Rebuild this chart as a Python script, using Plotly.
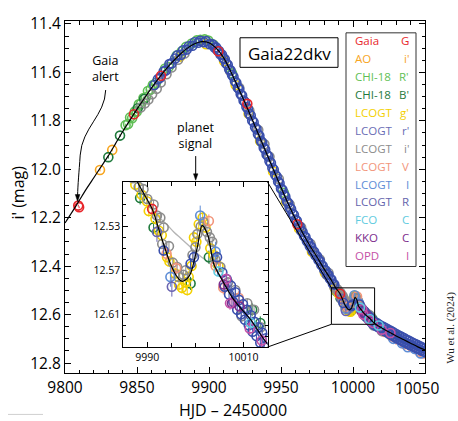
import plotly.graph_objects as go

# ---------------- data ----------------
model_t = [9800, 9805, 9810, 9815, 9820, 9825, 9830, 9835, 9840, 9845, 9850, 9855, 9860, 9865,
           9870, 9875, 9880, 9885, 9890, 9895, 9900, 9905, 9910, 9915, 9920, 9925, 9930, 9935,
           9940, 9945, 9950, 9955, 9960, 9965, 9970, 9975, 9980, 9985, 9988, 9991, 9992.7,
           9994.8, 9996.2, 9997.2, 9998.2, 9999.0, 10000.4, 10001.4, 10002.6, 10003.8, 10005.2,
           10008, 10011.5, 10015, 10020, 10025, 10030, 10035, 10040, 10045, 10050]
model_m = [12.222, 12.176, 12.128, 12.080, 12.035, 11.990, 11.945, 11.895, 11.845, 11.798, 11.752,
           11.708, 11.665, 11.625, 11.588, 11.555, 11.525, 11.500, 11.482, 11.473, 11.478, 11.500,
           11.538, 11.595, 11.660, 11.725, 11.795, 11.865, 11.935, 12.005, 12.075, 12.142, 12.205,
           12.262, 12.315, 12.362, 12.412, 12.458, 12.490, 12.514, 12.537, 12.564, 12.576, 12.580,
           12.578, 12.573, 12.549, 12.529, 12.538, 12.564, 12.576, 12.597, 12.615, 12.637, 12.655,
           12.672, 12.688, 12.703, 12.718, 12.733, 12.746]

nopl_t = [9990.0, 9991.0, 9992.5, 9994.0, 9995.5, 9997.0, 9998.5, 9999.5, 10001.0, 10002.5, 10004.0, 10005.5]
nopl_m = [12.507, 12.514, 12.522, 12.528, 12.535, 12.541, 12.547, 12.551, 12.557, 12.562, 12.568, 12.578]

gaia_t = [9809.2, 9809.8, 9847.9, 9866.7, 9906.5, 9926.6, 9961.3, 9991.0]
gaia_m = [12.150, 12.157, 11.773, 11.614, 11.513, 11.730, 12.227, 12.514]

ao_t = [9824.3, 9832.8]
ao_m = [12.003, 11.920]

chiR_t = [9842.1, 9843.8, 9845.2, 9846.6, 9848.5, 9849.8, 9851.3, 9852.8, 9854.5, 9856.2, 9857.6,
          9859.5, 9861.0, 9863.2, 9869.5, 9872.0, 9877.5, 9881.0, 9884.0, 9888.0, 9891.5, 9894.0,
          9897.0, 9899.5, 9903.0, 9916.0, 9936.0, 9952.0]
chiR_m = [11.818, 11.813, 11.786, 11.789, 11.762, 11.763, 11.732, 11.730, 11.706, 11.703, 11.677,
          11.671, 11.652, 11.643, 11.584, 11.578, 11.531, 11.514, 11.495, 11.481, 11.468, 11.466,
          11.464, 11.469, 11.485, 11.604, 11.885, 12.097]

chiB_t = [9830.1, 9838.2, 9850.5, 9855.0, 9988.5, 9991.3, 9999.0, 10002.8, 10011.8, 10013.5, 10030.0]
chiB_m = [11.950, 11.861, 11.748, 11.710, 12.504, 12.531, 12.582, 12.558, 12.606, 12.618, 12.690]

gp_t = [9880.0, 9898.0, 9910.5, 9918.5, 9927.5, 9935.5, 9944.5, 9953.5, 9962.5, 9971.5, 9980.5,
        9987.5, 9988.8, 9989.9, 9990.3, 9991.7, 9992.4, 9993.0, 9994.1, 9994.6, 9995.8, 9996.6,
        9997.2, 9997.9, 9998.3, 9998.6, 9999.2, 9999.7, 10000.2, 10000.7, 10001.5, 10002.1,
        10003.1, 10003.8, 10004.8]
gp_m = [11.535, 11.484, 11.554, 11.652, 11.771, 11.883, 12.009, 12.133, 12.245, 12.340, 12.427,
        12.492, 12.501, 12.507, 12.516, 12.523, 12.534, 12.538, 12.558, 12.562, 12.573, 12.583,
        12.586, 12.581, 12.588, 12.576, 12.566, 12.540, 12.544, 12.528, 12.522, 12.531,
        12.550, 12.556, 12.566]

rp_t = [9862, 9864.5, 9866, 9868.5, 9870, 9872.5, 9874, 9876.5, 9878, 9880.5, 9882, 9884.5, 9886,
        9888.5, 9890, 9892.5, 9894, 9896.5, 9898, 9900.5, 9902,
        9903, 9904, 9905, 9906, 9907, 9908, 9909, 9910, 9911, 9912, 9913, 9914, 9915, 9916, 9917,
        9918, 9919, 9920, 9921, 9922, 9923, 9924, 9925, 9926, 9927, 9928, 9929, 9930, 9931, 9932,
        9933, 9934, 9935, 9936, 9937, 9938, 9939, 9940, 9941, 9942, 9943, 9944, 9945, 9946, 9947,
        9948, 9949, 9950, 9951, 9952, 9953, 9954, 9955, 9956, 9957, 9958, 9959, 9960, 9961, 9962,
        9963, 9964, 9965, 9966, 9967, 9968, 9969, 9970, 9971, 9972, 9973, 9974, 9975, 9976, 9977,
        9978, 9979, 9980, 9981, 9982, 9983, 9984, 9985, 9986, 9987,
        9993.4, 9999.0, 9999.7, 10004.5,
        10005.6, 10006.1, 10006.5, 10007.0, 10007.4, 10007.9, 10008.3, 10008.7, 10009.1, 10009.5,
        10009.9, 10010.3, 10010.7, 10011.1, 10011.5, 10011.9, 10012.3, 10012.7, 10013.1, 10013.5,
        10013.9, 10014.3, 10014.7,
        10015.5, 10016.3, 10017.0, 10017.8, 10018.6, 10019.4, 10020.2, 10021.0, 10021.8, 10022.6,
        10023.4, 10024.2, 10025.0, 10025.8, 10026.6, 10027.4, 10028.2, 10029.0, 10029.8, 10030.6,
        10031.4, 10032.2, 10033.0, 10033.8, 10034.6, 10035.4, 10036.2, 10037.0, 10037.8, 10038.6,
        10039.4, 10040.2, 10041.0, 10041.8, 10042.6, 10043.4, 10044.2, 10045.0, 10045.8, 10046.6,
        10047.4, 10048.2, 10049.0, 10049.8, 10050.6]
rp_m = [11.652, 11.628, 11.622, 11.596, 11.592, 11.566, 11.563, 11.543, 11.530, 11.528, 11.509,
        11.506, 11.492, 11.490, 11.476, 11.478, 11.470, 11.476, 11.471, 11.484, 11.483,
        11.488, 11.498, 11.497, 11.510, 11.512, 11.526, 11.527, 11.542, 11.546, 11.563, 11.569,
        11.587, 11.592, 11.611, 11.618, 11.637, 11.643, 11.664, 11.670, 11.690, 11.696, 11.716,
        11.722, 11.743, 11.750, 11.771, 11.778, 11.799, 11.806, 11.827, 11.834, 11.855, 11.862,
        11.883, 11.890, 11.911, 11.918, 11.939, 11.946, 11.967, 11.974, 11.995, 12.002, 12.023,
        12.030, 12.051, 12.058, 12.079, 12.085, 12.105, 12.112, 12.132, 12.139, 12.158, 12.164,
        12.183, 12.189, 12.208, 12.213, 12.231, 12.236, 12.254, 12.259, 12.276, 12.280, 12.297,
        12.301, 12.318, 12.321, 12.337, 12.340, 12.356, 12.359, 12.375, 12.379, 12.395, 12.399,
        12.415, 12.418, 12.433, 12.436, 12.452, 12.455, 12.472, 12.476,
        12.552, 12.564, 12.558, 12.558,
        12.572, 12.585, 12.578, 12.592, 12.584, 12.599, 12.590, 12.606, 12.597, 12.610,
        12.601, 12.615, 12.606, 12.620, 12.611, 12.626, 12.617, 12.630, 12.622, 12.636,
        12.627, 12.640, 12.632,
        12.645, 12.634, 12.650, 12.640, 12.655, 12.646, 12.663, 12.650, 12.668, 12.655,
        12.672, 12.661, 12.679, 12.666, 12.684, 12.671, 12.689, 12.677, 12.696, 12.682,
        12.700, 12.687, 12.705, 12.692, 12.711, 12.697, 12.715, 12.703, 12.720, 12.707,
        12.725, 12.712, 12.729, 12.717, 12.734, 12.721, 12.739, 12.726, 12.743, 12.731,
        12.748, 12.736, 12.752, 12.741, 12.756]

ip_t = [9852.5, 9855.5, 9857.9, 9860.5, 9863.7, 9866.5, 9870.5, 9874.0, 9878.5, 9883.0, 9914.6,
        9921.0, 9928.0, 9934.2, 9938.5, 9942.0, 9948.5, 9956.0, 9964.0, 9970.5, 9977.0, 9981.7,
        9983.0, 9987.0, 9988.2, 9989.2, 9990.0, 9991.3, 9992.0, 9992.7, 9993.1, 9993.4, 9994.5,
        9995.3, 9996.2, 9996.5, 9997.5, 9998.0, 9999.4, 10000.0, 10000.4, 10001.1, 10001.7,
        10002.4, 10003.0, 10003.5, 10004.1, 10005.2, 10006.8, 10008.3, 10009.6, 10010.8,
        10012.2, 10013.6, 10014.4, 10020.0, 10036.0]
ip_m = [11.745, 11.728, 11.712, 11.690, 11.668, 11.642, 11.608, 11.580, 11.548, 11.522, 11.594,
        11.664, 11.757, 11.838, 11.897, 11.948, 12.040, 12.145, 12.240, 12.308, 12.372, 12.435,
        12.428, 12.486, 12.494, 12.496, 12.505, 12.510, 12.520, 12.522, 12.546, 12.531, 12.548,
        12.563, 12.567, 12.576, 12.574, 12.570, 12.556, 12.549, 12.537, 12.530, 12.526,
        12.535, 12.540, 12.544, 12.560, 12.567, 12.581, 12.588, 12.612, 12.600,
        12.606, 12.622, 12.645, 12.668, 12.715]

lv_t = [9994.0, 9996.0, 10002.8, 10004.2, 10005.8, 10009.0, 10022.0, 10027.0, 10031.0, 10036.0,
        10041.0, 10046.0, 10049.0]
lv_m = [12.555, 12.568, 12.525, 12.566, 12.586, 12.595, 12.672, 12.690, 12.703, 12.722,
        12.735, 12.752, 12.760]

li_t = [9994.8, 10001.0, 10004.2, 10028.0, 10034.0, 10038.0, 10043.0, 10047.0]
li_m = [12.576, 12.520, 12.553, 12.700, 12.718, 12.735, 12.742, 12.760]

lr_t = [9992.0, 9995.1]
lr_m = [12.535, 12.585]

fco_t = [10004.8, 10011.5, 10017.8]
fco_m = [12.571, 12.618, 12.645]

kko_t = [10005.9, 10007.6, 10009.2]
kko_m = [12.583, 12.600, 12.603]

opd_t = [10006.4, 10007.2, 10011.3, 10013.8, 10020.0, 10026.0]
opd_m = [12.578, 12.600, 12.623, 12.634, 12.662, 12.676]

legend_names = ["Gaia", "AO", "CHI-18", "CHI-18", "LCOGT", "LCOGT", "LCOGT", "LCOGT", "LCOGT",
                "LCOGT", "FCO", "KKO", "OPD"]
legend_bands = ["G", "i'", "R'", "B'", "g'", "r'", "i'", "V", "I", "R", "C", "C", "I"]

x_ticks = [9800, 9850, 9900, 9950, 10000]
y_ticks = [11.4, 11.6, 11.8, 12.0, 12.2, 12.4, 12.6, 12.8]
inset_x_ticks = [9990, 10010]
inset_y_ticks = [12.53, 12.57, 12.61]

# ---------------- styles ----------------
C_GAIA, C_AO, C_CHIR, C_CHIB = "#e8262b", "#f7a51f", "#5fbf55", "#1f7a3c"
C_GP, C_RP, C_IP, C_V = "#f3d000", "#3a4fac", "#8c8c8c", "#f2957b"
C_I, C_R, C_FCO, C_KKO, C_OPD = "#5e8dd6", "#6a64b0", "#5fcbe0", "#7c2d8c", "#c450a6"
legend_colors = [C_GAIA, C_AO, C_CHIR, C_CHIB, C_GP, "#6a6db5", C_IP, C_V, C_I, "#6565ad",
                 C_FCO, C_KKO, C_OPD]

FONT = "Open Sans"
W, H = 458, 421
L, R, T, B = 65, 425, 16, 373
XR = [9800, 10050]
YR = [12.841, 11.388]
IX = [9985, 10015]
IY = [12.640, 12.4895]


def px(x):
    return (x - L) / (R - L)


def py(y):
    return (B - y) / (B - T)


series = [
    (ao_t, ao_m, C_AO, 0.006),
    (chiR_t, chiR_m, C_CHIR, 0.006),
    (chiB_t, chiB_m, C_CHIB, 0.006),
    (gp_t, gp_m, C_GP, 0.005),
    (ip_t, ip_m, C_IP, 0.004),
    (lv_t, lv_m, C_V, 0.006),
    (li_t, li_m, C_I, 0.009),
    (lr_t, lr_m, C_R, 0.009),
    (rp_t, rp_m, C_RP, 0.005),
    (kko_t, kko_m, C_KKO, 0.004),
    (opd_t, opd_m, C_OPD, 0.006),
    (fco_t, fco_m, C_FCO, 0.004),
    (gaia_t, gaia_m, C_GAIA, 0.004),
]

fig = go.Figure()

# gray no-planet model in inset (below data)
fig.add_trace(go.Scatter(x=nopl_t, y=nopl_m, mode="lines", line=dict(color="#b4b4b4", width=1.3, shape="spline"),
                         xaxis="x2", yaxis="y2", hoverinfo="skip"))

for ax in [("x", "y"), ("x2", "y2")]:
    for t, m, c, e in series:
        fig.add_trace(go.Scatter(
            x=t, y=m, mode="markers", xaxis=ax[0], yaxis=ax[1],
            marker=dict(symbol="circle-open", size=9, color=c, line=dict(width=1.6, color=c)),
            error_y=dict(type="constant", value=e, color=c, thickness=1, width=0),
            hoverinfo="skip"))
    fig.add_trace(go.Scatter(x=model_t, y=model_m, mode="lines", xaxis=ax[0], yaxis=ax[1],
                             line=dict(color="black", width=1.2, shape="spline", smoothing=0.8),
                             hoverinfo="skip"))

axis_common = dict(showline=True, linecolor="black", linewidth=1, mirror="ticks", ticks="inside",
                   tickcolor="black", showgrid=False, zeroline=False)

fig.update_layout(
    width=W, height=H, margin=dict(l=L, r=W - R, t=T, b=H - B),
    paper_bgcolor="white", plot_bgcolor="white", showlegend=False,
    font=dict(family=FONT, color="black"),
    xaxis=dict(range=XR, tickvals=x_ticks, tickformat="d", ticklen=6, tickwidth=1,
               tickfont=dict(size=15.5), minor=dict(dtick=10, tick0=9800, ticklen=3.5, ticks="inside", tickcolor="black"),
               **axis_common),
    yaxis=dict(range=YR, tickvals=y_ticks, tickformat=".1f", ticklen=6, tickfont=dict(size=15.5),
               minor=dict(dtick=0.05, tick0=11.4, ticklen=3.5, ticks="inside", tickcolor="black"),
               **axis_common),
    xaxis2=dict(domain=[px(123.3), px(267.5)], anchor="y2", range=IX, tickvals=inset_x_ticks,
                tickformat="d", ticklen=5, tickfont=dict(size=10.5),
                minor=dict(dtick=5, tick0=9990, ticklen=4, ticks="inside", tickcolor="black"),
                **axis_common),
    yaxis2=dict(domain=[py(346.7), py(179.3)], anchor="x2", range=IY, tickvals=inset_y_ticks,
                tickformat=".2f", ticklen=5, tickfont=dict(size=10.5),
                minor=dict(dtick=0.01, tick0=12.49, ticklen=3, ticks="inside", tickcolor="black"),
                **axis_common),
)


def d2p(t, m):
    return (t - XR[0]) / (XR[1] - XR[0]), (YR[0] - m) / (YR[0] - YR[1])


shapes = []
# zoom rectangle in main plot
shapes.append(dict(type="rect", xref="x", yref="y", x0=IX[0], x1=IX[1], y0=IY[1], y1=IY[0],
                   line=dict(color="black", width=1)))
# connectors
tl = d2p(IX[0], IY[1])
bl = d2p(IX[0], IY[0])
shapes.append(dict(type="line", xref="paper", yref="paper", x0=px(267.5), y0=py(179.3), x1=tl[0], y1=tl[1],
                   line=dict(color="black", width=1)))
shapes.append(dict(type="line", xref="paper", yref="paper", x0=px(267.5), y0=py(346.7), x1=bl[0], y1=bl[1],
                   line=dict(color="black", width=1)))
# title box
shapes.append(dict(type="rect", xref="paper", yref="paper", x0=px(240), x1=px(338), y0=py(63), y1=py(33),
                   line=dict(color="black", width=1), fillcolor="white"))
# legend box
shapes.append(dict(type="rect", xref="paper", yref="paper", x0=px(346), x1=px(416), y0=py(265), y1=py(28),
                   line=dict(color="#333333", width=1), fillcolor="white"))


def path(pts):
    s = "M {:.5f},{:.5f}".format(px(pts[0][0]), py(pts[0][1]))
    i = 1
    while i < len(pts):
        s += " C " + " ".join("{:.5f},{:.5f}".format(px(a), py(b)) for a, b in pts[i:i + 3])
        i += 3
    return s


curve = [(105.7, 86), (105.0, 112), (82.0, 124), (80.2, 152), (79.0, 170), (77.8, 182), (77.6, 193)]
shapes.append(dict(type="path", xref="paper", yref="paper", path=path(curve),
                   line=dict(color="black", width=1)))


def tri(tip, half=2.3, length=7):
    x, y = tip
    return "M {:.5f},{:.5f} L {:.5f},{:.5f} L {:.5f},{:.5f} Z".format(
        px(x), py(y), px(x - half), py(y - length), px(x + half), py(y - length))


shapes.append(dict(type="path", xref="paper", yref="paper", path=tri((77.6, 199)),
                   fillcolor="black", line=dict(color="black", width=0.5)))
shapes.append(dict(type="line", xref="paper", yref="paper", x0=px(195.7), y0=py(153), x1=px(195.7), y1=py(172),
                   line=dict(color="black", width=1)))
shapes.append(dict(type="path", xref="paper", yref="paper", path=tri((195.7, 177.5), 2.2, 6.5),
                   fillcolor="black", line=dict(color="black", width=0.5)))
# small gray mark bottom-left
shapes.append(dict(type="line", xref="paper", yref="paper", x0=px(8), x1=px(43), y0=py(415), y1=py(415),
                   line=dict(color="#cfcfcf", width=1)))

ann = []
ann.append(dict(text="Gaia22dkv", x=px(289), y=py(48.5), font=dict(size=17)))
ann.append(dict(text="Gaia<br>alert", x=px(105.7), y=py(64.5), font=dict(size=12.5)))
ann.append(dict(text="planet<br>signal", x=px(195), y=py(132), font=dict(size=12.5)))
ann.append(dict(text="HJD \u2013 2450000", x=px(233), y=py(411), font=dict(size=16)))
ann.append(dict(text="i' (mag)", x=px(18), y=py(190), textangle=-90, font=dict(size=16)))
ann.append(dict(text="10050", x=px(417), y=py(388.5), font=dict(size=15.5)))
ann.append(dict(text="Wu et al. (2024)", x=px(451), y=py(327), textangle=-90,
                font=dict(size=11, family="Liberation Serif", color="#222222")))
for i, (nm, bd, c) in enumerate(zip(legend_names, legend_bands, legend_colors)):
    yy = py(36 + i * 18.17)
    ann.append(dict(text=nm, x=px(352.5), y=yy, xanchor="left", font=dict(size=11.5, color=c)))
    ann.append(dict(text=bd, x=px(411), y=yy, xanchor="right", font=dict(size=11.5, color=c)))

for a in ann:
    a.setdefault("xanchor", "center")
    a.update(xref="paper", yref="paper", yanchor="middle", showarrow=False)

fig.update_layout(shapes=shapes, annotations=ann)
fig.write_html("out.html", config={"displayModeBar": False},
               post_script="document.body.style.margin='0px';document.body.style.overflow='hidden';")
